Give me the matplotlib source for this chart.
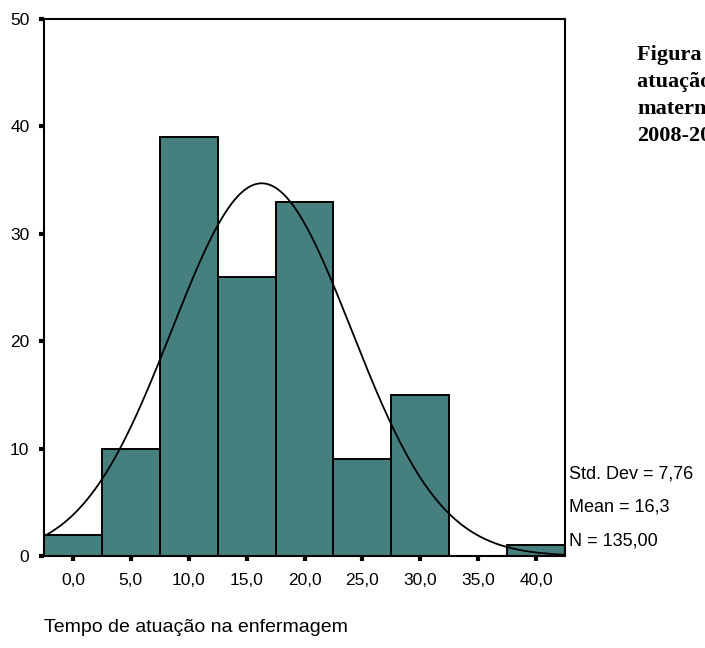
import numpy as np
import matplotlib
matplotlib.use("Agg")
import matplotlib.pyplot as plt

# Data
bin_centers = [0, 5, 10, 15, 20, 25, 30, 35, 40]
counts = [2, 10, 39, 26, 33, 9, 15, 0, 1]
xtick_labels = ["0,0", "5,0", "10,0", "15,0", "20,0", "25,0", "30,0", "35,0", "40,0"]
yticks = [0, 10, 20, 30, 40, 50]
mean_val = 16.3
std_val = 7.76
n_val = 135
bin_width = 5
stats_lines = ["Std. Dev = 7,76", "Mean = 16,3", "N = 135,00"]
xlabel = "Tempo de atuação na enfermagem"
caption_lines = ["Figura 1 – Tempo de", "atuação na", "maternidade,", "2008-2009"]

plt.rcParams['font.family'] = ['Liberation Sans', 'DejaVu Sans']

fig = plt.figure(figsize=(7.05, 6.48), dpi=100)
ax = fig.add_axes([44/705, 1 - 556/648, (565-44)/705, (556-19)/648])

ax.bar(bin_centers, counts, width=bin_width, color='#457f7e', edgecolor='black',
       linewidth=1.4, zorder=2)

xs = np.linspace(-2.5, 42.5, 400)
ys = n_val * bin_width / (std_val * np.sqrt(2*np.pi)) * np.exp(-0.5*((xs-mean_val)/std_val)**2)
ax.plot(xs, ys, color='black', linewidth=1.3, zorder=3)

ax.set_xlim(-2.5, 42.5)
ax.set_ylim(0, 50)
ax.set_xticks(bin_centers)
ax.set_xticklabels(xtick_labels, fontsize=12.5)
ax.set_yticks(yticks)
ax.set_yticklabels([str(v) for v in yticks], fontsize=12.5)
ax.tick_params(axis='both', direction='out', length=3.5, width=3, color='black')
ax.tick_params(axis='x', pad=9)
ax.tick_params(axis='y', pad=7)
for s in ax.spines.values():
    s.set_linewidth(1.5)

fig.text(44/705, 1 - 627/648, xlabel, fontsize=14, ha='left', va='center')

for i, line in enumerate(stats_lines):
    fig.text(569/705, 1 - (474 + i*33.5)/648, line, fontsize=13, ha='left', va='center')

for i, line in enumerate(caption_lines):
    fig.text(637/705, 1 - (55 + i*27)/648, line, fontsize=16, ha='left', va='center',
             family=['Liberation Serif', 'DejaVu Serif'], fontweight='bold')

fig.savefig("out.png", dpi=100)
